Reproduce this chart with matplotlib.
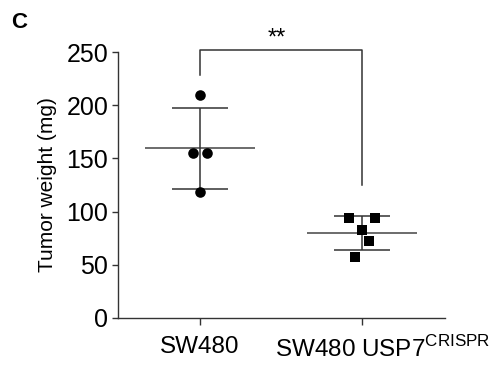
import matplotlib
matplotlib.use('Agg')
import matplotlib.pyplot as plt
import matplotlib.transforms as mtransforms
import numpy as np

plt.rcParams['font.family'] = ['Liberation Sans', 'DejaVu Sans']

groups = ['SW480', 'SW480 USP7$^{\\mathregular{CRISPR}}$']
sw480 = [210, 155, 155, 118]
sw480_dx = [0.0, -0.043, 0.043, 0.0]
usp7 = [94, 94, 83, 72, 57]
usp7_dx = [-0.08, 0.08, 0.0, 0.043, -0.043]
signif = '**'

fig = plt.figure(figsize=(5, 3.77), dpi=100)
ax = fig.add_axes([0.236, 0.1565, 0.654, 0.7055])

data = [(sw480, sw480_dx, 'o'), (usp7, usp7_dx, 's')]
lc = '#333333'
for i, (vals, dx, mk) in enumerate(data):
    vals = np.array(vals, dtype=float)
    m = vals.mean()
    sd = vals.std(ddof=1)
    ax.scatter(i + np.array(dx), vals, marker=mk, s=58, color='black', zorder=3,
               linewidths=0)
    ax.hlines(m, i - 0.34, i + 0.34, color='#444444', lw=1.1, zorder=2)
    ax.hlines([m - sd, m + sd], i - 0.17, i + 0.17, color=lc, lw=1.1, zorder=2)
    ax.vlines(i, m - sd, m + sd, color=lc, lw=1.1, zorder=2)

# significance bracket
top = 252
ax.plot([0, 0, 1, 1], [228, top, top, 125], color=lc, lw=1.1, clip_on=False)
ax.text(0.475, 257, signif, ha='center', va='baseline', fontsize=17,
        clip_on=False)

ax.set_xlim(-0.506, 1.512)
ax.set_ylim(0, 250)
ax.set_yticks([0, 50, 100, 150, 200, 250])
ax.set_xticks([0, 1])
ax.set_xticklabels(groups, fontsize=17.5)
ax.tick_params(axis='y', labelsize=18, length=4, width=1, color=lc, pad=3)
ax.tick_params(axis='x', length=5, width=1, color=lc, pad=8)
ax.set_ylabel('Tumor weight (mg)', fontsize=15, labelpad=7)
for s in ['top', 'right']:
    ax.spines[s].set_visible(False)
for s in ['left', 'bottom']:
    ax.spines[s].set_color(lc)
    ax.spines[s].set_linewidth(1)

# second label sits slightly right of its tick
lab = ax.get_xticklabels()[1]
lab.set_transform(lab.get_transform() +
                  mtransforms.ScaledTranslation(0.21, 0, fig.dpi_scale_trans))

fig.text(0.022, 0.968, 'C', fontsize=16, fontweight='bold', va='top')

fig.savefig('out.png', dpi=100)
